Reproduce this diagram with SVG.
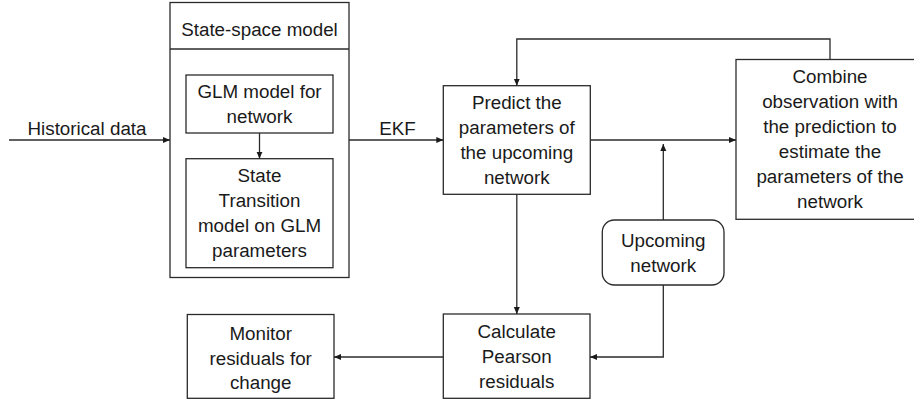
<svg xmlns="http://www.w3.org/2000/svg" width="914" height="400" viewBox="0 0 914 400">
<style>
.box{fill:#fff;stroke:#2b2b2b;stroke-width:1.3}
.t{font-family:"Liberation Sans",Arial,sans-serif;font-size:18.8px;fill:#1a1a1a;text-anchor:middle}
.c{fill:none;stroke:#2b2b2b;stroke-width:1.3}
</style>
<defs>
<marker id="ah" markerUnits="userSpaceOnUse" markerWidth="8" markerHeight="7" refX="7" refY="3" orient="auto">
<path d="M0,0 L7,3 L0,6 z" fill="#1a1a1a"/>
</marker>
</defs>
<rect width="914" height="400" fill="#fff"/>
<g id="state-space">
<rect class="box" x="170" y="2.5" width="179" height="275"/>
<line class="c" x1="170" y1="49" x2="349" y2="49"/>
<text class="t" x="259.5" y="35.5">State-space model</text>
</g>
<g id="glm">
<rect class="box" x="186" y="75" width="147" height="58"/>
<text class="t" x="259.5" y="98">GLM model for</text>
<text class="t" x="259.5" y="123">network</text>
</g>
<g id="transition">
<rect class="box" x="186" y="158.7" width="147" height="109"/>
<text class="t" x="259.5" y="182.2">State</text>
<text class="t" x="259.5" y="207.2">Transition</text>
<text class="t" x="259.5" y="232.2">model on GLM</text>
<text class="t" x="259.5" y="257.2">parameters</text>
</g>
<g id="predict">
<rect class="box" x="443.3" y="85.7" width="147" height="108.6"/>
<text class="t" x="516.8" y="109">Predict the</text>
<text class="t" x="516.8" y="134">parameters of</text>
<text class="t" x="516.8" y="159">the upcoming</text>
<text class="t" x="516.8" y="184">network</text>
</g>
<g id="combine">
<rect class="box" x="736" y="59.5" width="188" height="159.8"/>
<text class="t" x="830" y="83.3">Combine</text>
<text class="t" x="830" y="108.3">observation with</text>
<text class="t" x="830" y="133.3">the prediction to</text>
<text class="t" x="830" y="158.3">estimate the</text>
<text class="t" x="830" y="183.3">parameters of the</text>
<text class="t" x="830" y="208.3">network</text>
</g>
<g id="upcoming">
<rect class="box" x="602.3" y="220" width="121.7" height="65" rx="12" ry="12"/>
<text class="t" x="663.2" y="246.5">Upcoming</text>
<text class="t" x="663.2" y="271.5">network</text>
</g>
<g id="calculate">
<rect class="box" x="443.3" y="314" width="146.7" height="84.3"/>
<text class="t" x="516.7" y="337.7">Calculate</text>
<text class="t" x="516.7" y="362.7">Pearson</text>
<text class="t" x="516.7" y="387.7">residuals</text>
</g>
<g id="monitor">
<rect class="box" x="187.3" y="314.5" width="146.7" height="83.8"/>
<text class="t" x="260.7" y="340">Monitor</text>
<text class="t" x="260.7" y="364.5">residuals for</text>
<text class="t" x="260.7" y="388.5">change</text>
</g>
<g id="labels">
<text class="t" x="87" y="135">Historical data</text>
<text class="t" x="397.5" y="135">EKF</text>
</g>
<g id="connectors">
<path class="c" d="M9,140 H170" marker-end="url(#ah)"/>
<path class="c" d="M349,140 H443.3" marker-end="url(#ah)"/>
<path class="c" d="M259.5,133 V158.7" marker-end="url(#ah)"/>
<path class="c" d="M590.3,140 H736" marker-end="url(#ah)"/>
<path class="c" d="M830,59.5 V39 H516.8 V85.7" marker-end="url(#ah)"/>
<path class="c" d="M663.3,220 V144" marker-end="url(#ah)"/>
<path class="c" d="M516.8,194.3 V314" marker-end="url(#ah)"/>
<path class="c" d="M663.3,285 V357 H590" marker-end="url(#ah)"/>
<path class="c" d="M443.3,357 H334" marker-end="url(#ah)"/>
</g>
</svg>
